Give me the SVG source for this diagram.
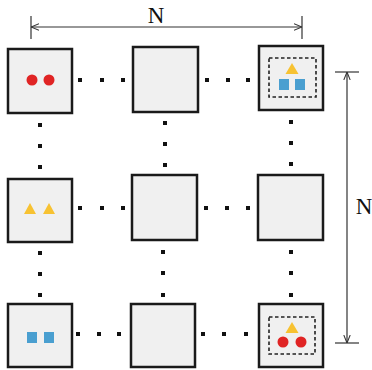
<svg xmlns="http://www.w3.org/2000/svg" width="372" height="370" viewBox="0 0 372 370">
<defs>
<style>
.box{fill:#f0f0f0;stroke:#1a1a1a;stroke-width:2.5}
.dot{fill:#111}
.red{fill:#e02424}
.yel{fill:#f7c232}
.blu{fill:#4a9fd0}
.dash{fill:none;stroke:#222;stroke-width:1.6;stroke-dasharray:3.5,2.5}
.dim{stroke:#333;stroke-width:1.2;fill:none}
.lbl{font-family:"Liberation Serif","DejaVu Serif",serif;font-size:23px;fill:#111}
</style>
<marker id="arr" viewBox="0 0 10 10" refX="10" refY="5" markerWidth="8" markerHeight="8" orient="auto-start-reverse" markerUnits="userSpaceOnUse">
<path d="M0,1 L10,5 L0,9" fill="none" stroke="#333" stroke-width="1.3"/>
</marker>
</defs>
<g id="connectors">
<g class="dot">
<rect x="78" y="78" width="4" height="4"/><rect x="100" y="78" width="4" height="4"/><rect x="121" y="78" width="4" height="4"/>
<rect x="205" y="78" width="4" height="4"/><rect x="226" y="78" width="4" height="4"/><rect x="246" y="78" width="4" height="4"/>
<rect x="78" y="206" width="4" height="4"/><rect x="100" y="206" width="4" height="4"/><rect x="121" y="206" width="4" height="4"/>
<rect x="204" y="206" width="4" height="4"/><rect x="225" y="206" width="4" height="4"/><rect x="246" y="206" width="4" height="4"/>
<rect x="76" y="332" width="4" height="4"/><rect x="97" y="332" width="4" height="4"/><rect x="117" y="332" width="4" height="4"/>
<rect x="201" y="332" width="4" height="4"/><rect x="222" y="332" width="4" height="4"/><rect x="244" y="332" width="4" height="4"/>
<rect x="38" y="123" width="4" height="4"/><rect x="38" y="144" width="4" height="4"/><rect x="38" y="165" width="4" height="4"/>
<rect x="38" y="251" width="4" height="4"/><rect x="38" y="272" width="4" height="4"/><rect x="38" y="293" width="4" height="4"/>
<rect x="163" y="121" width="4" height="4"/><rect x="163" y="142" width="4" height="4"/><rect x="163" y="163" width="4" height="4"/>
<rect x="161" y="250" width="4" height="4"/><rect x="161" y="271" width="4" height="4"/><rect x="161" y="293" width="4" height="4"/>
<rect x="289" y="120" width="4" height="4"/><rect x="289" y="141" width="4" height="4"/><rect x="289" y="162" width="4" height="4"/>
<rect x="289" y="250" width="4" height="4"/><rect x="289" y="271" width="4" height="4"/><rect x="289" y="293" width="4" height="4"/>
</g>
</g>
<g id="dim-top">
<line class="dim" x1="31" y1="16" x2="31" y2="39"/>
<line class="dim" x1="302" y1="16" x2="302" y2="39"/>
<line class="dim" x1="31" y1="27" x2="302" y2="27" marker-start="url(#arr)" marker-end="url(#arr)"/>
<text class="lbl" x="156" y="23" text-anchor="middle">N</text>
</g>
<g id="dim-right">
<line class="dim" x1="335" y1="72" x2="359" y2="72"/>
<line class="dim" x1="335" y1="343" x2="359" y2="343"/>
<line class="dim" x1="347" y1="72" x2="347" y2="343" marker-start="url(#arr)" marker-end="url(#arr)"/>
<text class="lbl" x="364" y="214" text-anchor="middle">N</text>
</g>
<g id="n11">
<rect class="box" x="8" y="49" width="64" height="64"/>
<circle class="red" cx="32" cy="80" r="5.5"/><circle class="red" cx="49" cy="80" r="5.5"/>
</g>
<g id="n12"><rect class="box" x="133" y="47" width="65" height="65"/></g>
<g id="n13">
<rect class="box" x="259" y="46" width="64" height="64"/>
<rect class="dash" x="269" y="58" width="47" height="39"/>
<polygon class="yel" points="292,63 298.5,74 285.5,74"/>
<rect class="blu" x="279" y="79" width="10" height="11"/><rect class="blu" x="295" y="79" width="10" height="11"/>
</g>
<g id="n21">
<rect class="box" x="8" y="179" width="64" height="63"/>
<polygon class="yel" points="30,203 36,214 24,214"/><polygon class="yel" points="49,203 55,214 43,214"/>
</g>
<g id="n22"><rect class="box" x="132" y="175" width="65" height="65"/></g>
<g id="n23"><rect class="box" x="258" y="175" width="65" height="65"/></g>
<g id="n31">
<rect class="box" x="8" y="304" width="64" height="63"/>
<rect class="blu" x="27" y="332" width="10" height="11"/><rect class="blu" x="44" y="332" width="10" height="11"/>
</g>
<g id="n32"><rect class="box" x="131" y="304" width="64" height="63"/></g>
<g id="n33">
<rect class="box" x="259" y="304" width="64" height="63"/>
<rect class="dash" x="269" y="317" width="46" height="37"/>
<polygon class="yel" points="292,322 298.5,333 285.5,333"/>
<circle class="red" cx="283" cy="342" r="5.5"/><circle class="red" cx="301" cy="342" r="5.5"/>
</g>
</svg>
